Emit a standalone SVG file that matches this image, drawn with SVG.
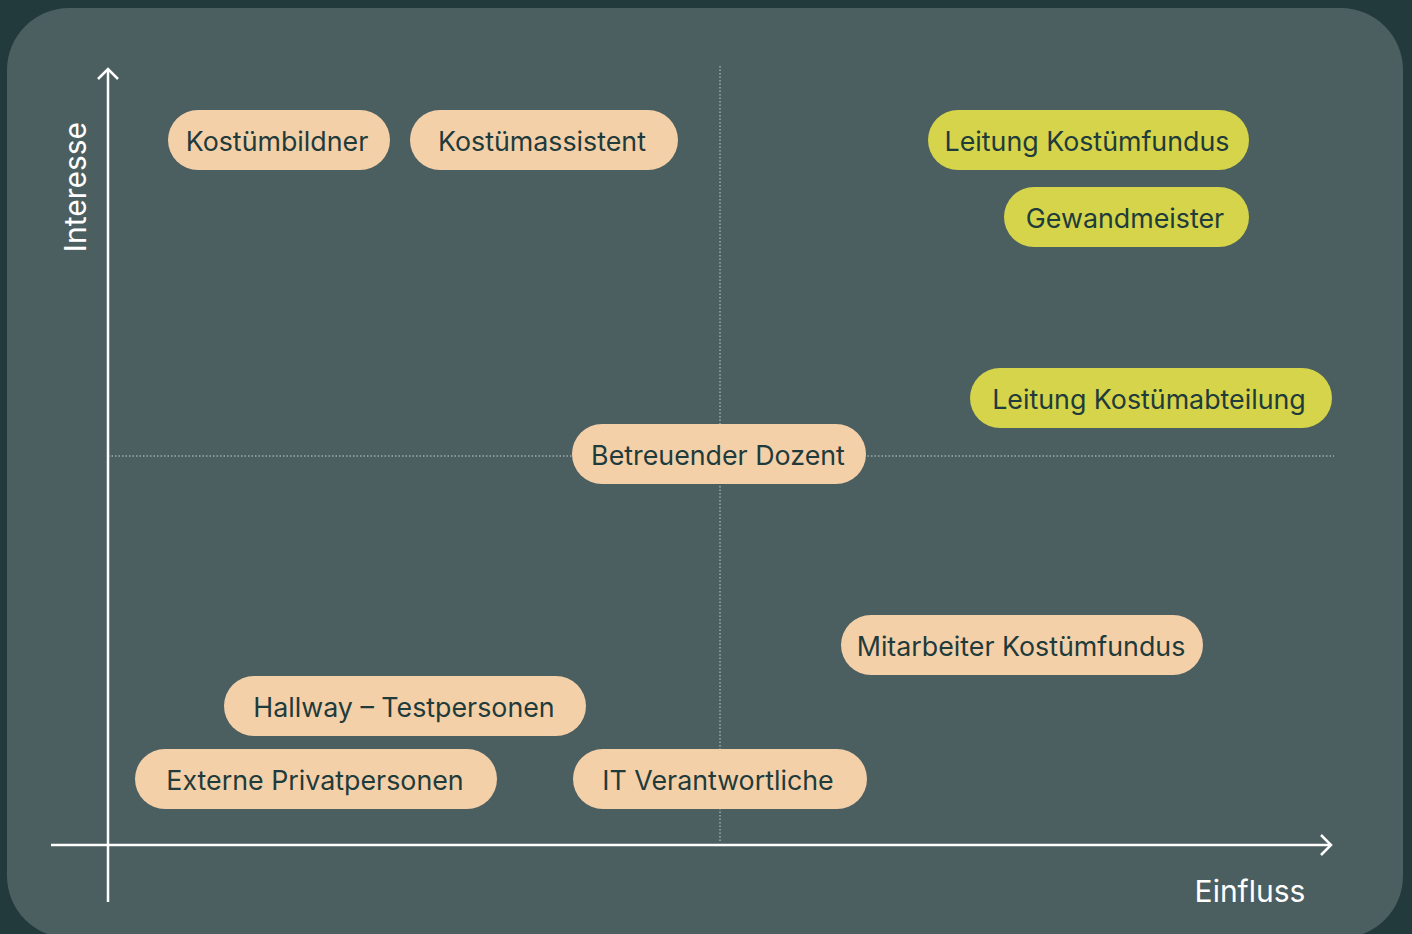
<svg xmlns="http://www.w3.org/2000/svg" width="1412" height="934" viewBox="0 0 1412 934">
  <defs>
    <style>
      .pill-peach { fill: #f4d0a9; }
      .pill-lime { fill: #d5d44a; }
      .pill-text { font-family: Inter, "Liberation Sans", sans-serif; font-size: 26.8px; fill: #1f3b3b; text-anchor: middle; dominant-baseline: central; }
      .axis { stroke: #ffffff; stroke-width: 2.5; fill: none; }
      .grid { stroke: #c9d0d0; stroke-width: 1; stroke-dasharray: 1.5 2; fill: none; }
      .axis-label { font-family: Inter, "Liberation Sans", sans-serif; font-size: 30px; fill: #ffffff; }
    </style>
  </defs>

  <!-- backdrop and panel -->
  <rect x="0" y="0" width="1412" height="934" fill="#223a3b"/>
  <rect x="7" y="8" width="1396" height="930" rx="62" ry="62" fill="#4b5e60"/>

  <!-- quadrant guides and axes -->
  <g id="connectors">
    <line class="grid" x1="720" y1="66" x2="720" y2="842"/>
    <line class="grid" x1="108" y1="456" x2="1334" y2="456"/>
    <line class="axis" x1="108" y1="70" x2="108" y2="902"/>
    <polyline class="axis" points="98,79 108,69 118,79"/>
    <line class="axis" x1="51" y1="845" x2="1331" y2="845"/>
    <polyline class="axis" points="1321,835 1331,845 1321,855"/>
  </g>

  <text class="axis-label" transform="translate(86 187) rotate(-90)" text-anchor="middle" font-size="29">Interesse</text>
  <text class="axis-label" x="1250" y="902" text-anchor="middle">Einfluss</text>

  <!-- stakeholders -->
  <g id="kostuembildner">
    <rect class="pill-peach" x="168" y="110" width="222" height="60" rx="30"/>
    <text class="pill-text" x="277" y="141">Kostümbildner</text>
  </g>
  <g id="kostuemassistent">
    <rect class="pill-peach" x="410" y="110" width="268" height="60" rx="30"/>
    <text class="pill-text" x="542" y="141">Kostümassistent</text>
  </g>
  <g id="leitung-kostuemfundus">
    <rect class="pill-lime" x="928" y="110" width="321" height="60" rx="30"/>
    <text class="pill-text" x="1087" y="141">Leitung Kostümfundus</text>
  </g>
  <g id="gewandmeister">
    <rect class="pill-lime" x="1004" y="187" width="245" height="60" rx="30"/>
    <text class="pill-text" x="1125" y="218">Gewandmeister</text>
  </g>
  <g id="leitung-kostuemabteilung">
    <rect class="pill-lime" x="970" y="368" width="362" height="60" rx="30"/>
    <text class="pill-text" x="1149" y="399">Leitung Kostümabteilung</text>
  </g>
  <g id="betreuender-dozent">
    <rect class="pill-peach" x="572" y="424" width="294" height="60" rx="30"/>
    <text class="pill-text" x="718" y="455">Betreuender Dozent</text>
  </g>
  <g id="mitarbeiter-kostuemfundus">
    <rect class="pill-peach" x="841" y="615" width="362" height="60" rx="30"/>
    <text class="pill-text" x="1021" y="646">Mitarbeiter Kostümfundus</text>
  </g>
  <g id="hallway-testpersonen">
    <rect class="pill-peach" x="224" y="676" width="362" height="60" rx="30"/>
    <text class="pill-text" x="404" y="707">Hallway – Testpersonen</text>
  </g>
  <g id="externe-privatpersonen">
    <rect class="pill-peach" x="135" y="749" width="362" height="60" rx="30"/>
    <text class="pill-text" x="315" y="780">Externe Privatpersonen</text>
  </g>
  <g id="it-verantwortliche">
    <rect class="pill-peach" x="573" y="749" width="294" height="60" rx="30"/>
    <text class="pill-text" x="718" y="780">IT Verantwortliche</text>
  </g>
</svg>
